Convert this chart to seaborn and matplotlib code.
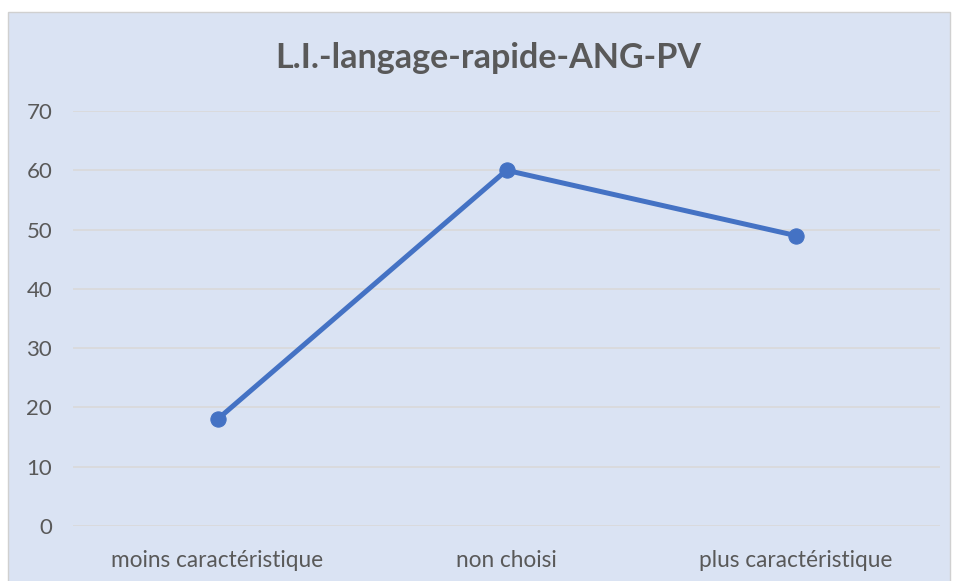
import matplotlib
matplotlib.use("Agg")
import matplotlib.pyplot as plt
from matplotlib.patches import Rectangle
import seaborn as sns
import pandas as pd

categories = ["moins caractéristique", "non choisi", "plus caractéristique"]
values = [18, 60, 49]
y_ticks = [0, 10, 20, 30, 40, 50, 60, 70]
title = "L.I.-langage-rapide-ANG-PV"

sns.set_theme(style="white")
plt.rcParams["font.family"] = ["Lato", "DejaVu Sans"]

W, H = 955, 581
fig = plt.figure(figsize=(W / 100, H / 100), dpi=100)
fig.patch.set_facecolor("white")

# chart area panel, drawn beneath the axes
panel = Rectangle((8 / W, -0.01), (950 - 8) / W, 1 - 12 / H + 0.01,
                  transform=fig.transFigure, facecolor="#DAE3F3",
                  edgecolor="#D0D0D0", linewidth=1.0, zorder=-10)
fig.patches.append(panel)

ax = fig.add_axes([73 / W, 1 - 526 / H, (940 - 73) / W, (526 - 111) / H])
ax.set_facecolor("none")
ax.set_zorder(1)

df = pd.DataFrame({"cat": categories, "val": values})
sns.lineplot(data=df, x="cat", y="val", ax=ax, color="#4472C4",
             linewidth=3.6, marker="o", markersize=11,
             markeredgecolor="#4472C4", sort=False, zorder=3)

ax.set_xlim(-0.5, 2.5)
ax.set_ylim(0, 70)
ax.set_yticks(y_ticks)
ax.set_axisbelow(True)
ax.yaxis.grid(True, color="#D9D9D9", linewidth=1.2)
ax.xaxis.grid(False)
for s in ax.spines.values():
    s.set_visible(False)
ax.set_xlabel("")
ax.set_ylabel("")
ax.tick_params(axis="y", labelsize=16, labelcolor="#595959", length=0, pad=15)
ax.tick_params(axis="x", labelsize=16.3, labelcolor="#595959", length=0, pad=17)

fig.text(488 / W, 1 - 58 / H, title, ha="center", va="center",
         fontsize=24.5, fontweight="bold", color="#595959")

fig.savefig("out.png", dpi=100)
